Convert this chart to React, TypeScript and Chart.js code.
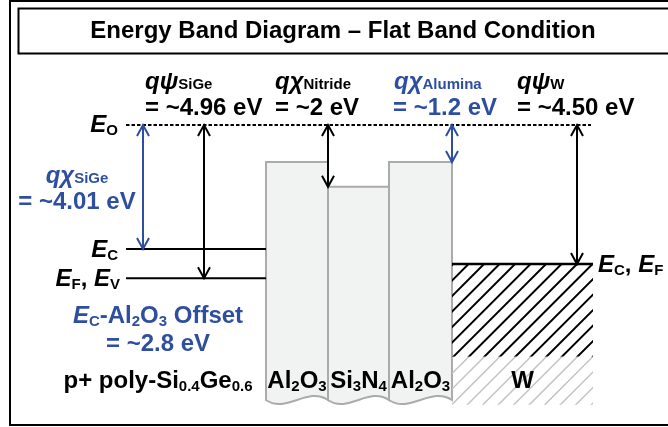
import React, { useEffect, useRef } from "react";
import { Chart, registerables } from "chart.js";
Chart.register(...registerables);

// ---- Data (energies in eV relative to the vacuum level E_O = 0) ----
const VACUUM_LEVEL = 0;
const SIGE_CHI = 4.01; // qχ SiGe
const SIGE_PSI = 4.96; // qψ SiGe
const W_PSI = 4.5; // qψ W
const LAYER_NAMES = ["Al2O3", "Si3N4", "Al2O3"];
const LAYER_CHI = [1.2, 2.0, 1.2]; // electron affinities of the dielectric stack
const LAYER_EDGES = [266, 328, 389, 452]; // diagram x units
const SIGE_SPAN = [126, 266];
const METAL_SPAN = [452, 593];
const VACUUM_SPAN = [126, 591];
const STACK_BOTTOM = -8.9; // eV (bottom of drawn dielectric blocks)
const METAL_DARK_BOTTOM = -7.5;
const METAL_LIGHT_BOTTOM = -9.05;
const OFFSET_LABEL = "~2.8 eV";

const FONT = '"Liberation Sans", Arial, Helvetica, sans-serif';
const BLUE = "#2E4FA0";

type Seg = [string, "b" | "bi" | "s" | "sl"];

function segFont(k: string) {
  if (k === "b") return `bold 24px ${FONT}`;
  if (k === "bi") return `italic bold 24px ${FONT}`;
  return `bold 15px ${FONT}`;
}

function drawRich(ctx: CanvasRenderingContext2D, segs: Seg[], x: number, y: number, align: string, color: string) {
  ctx.save();
  ctx.fillStyle = color;
  ctx.textBaseline = "alphabetic";
  ctx.textAlign = "left";
  const widths = segs.map(([t, k]) => {
    ctx.font = segFont(k);
    return ctx.measureText(t).width;
  });
  const total = widths.reduce((a, b) => a + b, 0);
  let cx = align === "left" ? x : align === "right" ? x - total : x - total / 2;
  segs.forEach(([t, k], i) => {
    ctx.font = segFont(k);
    ctx.fillText(t, cx, y + (k === "sl" ? 3 : 0));
    cx += widths[i];
  });
  ctx.restore();
}

function drawArrow(ctx: CanvasRenderingContext2D, x: number, y1: number, y2: number, color: string) {
  const L = 11, H = 6;
  ctx.save();
  ctx.strokeStyle = color;
  ctx.lineWidth = 2;
  ctx.lineJoin = "miter";
  ctx.beginPath();
  ctx.moveTo(x, y1);
  ctx.lineTo(x, y2);
  ctx.stroke();
  ctx.beginPath();
  ctx.moveTo(x - H, y1 + L);
  ctx.lineTo(x, y1);
  ctx.lineTo(x + H, y1 + L);
  ctx.moveTo(x - H, y2 - L);
  ctx.lineTo(x, y2);
  ctx.lineTo(x + H, y2 - L);
  ctx.stroke();
  ctx.restore();
}

function layerSegs(name: string): Seg[] {
  const out: Seg[] = [];
  for (const ch of name) {
    if (/[0-9]/.test(ch)) out.push([ch, "sl"]);
    else out.push([ch, "b"]);
  }
  return out;
}

const diagramPlugin = {
  id: "diagram",
  beforeDatasetsDraw(chart: any) {
    const ctx: CanvasRenderingContext2D = chart.ctx;
    const xs = chart.scales.x, ys = chart.scales.y;
    const X = (v: number) => xs.getPixelForValue(v);
    const Y = (v: number) => ys.getPixelForValue(v);

    // frames
    ctx.save();
    ctx.strokeStyle = "#000";
    ctx.lineWidth = 2;
    ctx.strokeRect(10, 1, 700, 424);
    ctx.strokeRect(18.5, 8.5, 700, 45);
    ctx.restore();

    // dielectric blocks
    const yb = Y(STACK_BOTTOM);
    LAYER_CHI.forEach((chi, i) => {
      const x0 = X(LAYER_EDGES[i]);
      const x1 = X(LAYER_EDGES[i + 1]);
      const yt = Y(VACUUM_LEVEL - chi);
      const w = x1 - x0;
      ctx.save();
      ctx.beginPath();
      ctx.moveTo(x0, yb);
      ctx.lineTo(x0, yt);
      ctx.lineTo(x1, yt);
      ctx.lineTo(x1, yb);
      ctx.bezierCurveTo(x0 + (2 * w) / 3, yb - 14, x0 + w / 3, yb + 14, x0, yb);
      ctx.closePath();
      ctx.fillStyle = "#F1F2F2";
      ctx.fill();
      ctx.strokeStyle = "#ABABAB";
      ctx.lineWidth = 2;
      ctx.stroke();
      ctx.restore();
    });

    // metal hatching
    const mx0 = X(METAL_SPAN[0]), mx1 = X(METAL_SPAN[1]);
    const yTop = Y(VACUUM_LEVEL - W_PSI);
    const yDark = Y(METAL_DARK_BOTTOM);
    const yLight = Y(METAL_LIGHT_BOTTOM);
    const step = 15.5;
    const hatch = (ya: number, yz: number, color: string, lw: number) => {
      ctx.save();
      ctx.beginPath();
      ctx.rect(mx0, ya, mx1 - mx0, yz - ya);
      ctx.clip();
      ctx.strokeStyle = color;
      ctx.lineWidth = lw;
      ctx.beginPath();
      for (let c = mx0 + yTop + 1 - step * 20; c < mx1 + yz + step; c += step) {
        ctx.moveTo(c - ya + 2, ya - 2);
        ctx.lineTo(c - yz - 2, yz + 2);
      }
      ctx.stroke();
      ctx.restore();
    };
    hatch(yTop, yDark, "#000", 2);
    hatch(yDark, yLight, "#C4C4C4", 1.5);
  },
  afterDatasetsDraw(chart: any) {
    const ctx: CanvasRenderingContext2D = chart.ctx;
    const xs = chart.scales.x, ys = chart.scales.y;
    const X = (v: number) => xs.getPixelForValue(v);
    const Y = (v: number) => ys.getPixelForValue(v);
    const y0 = Y(VACUUM_LEVEL);

    // arrows
    drawArrow(ctx, X(143), y0, Y(VACUUM_LEVEL - SIGE_CHI), BLUE);
    drawArrow(ctx, X(204), y0, Y(VACUUM_LEVEL - SIGE_PSI), "#000");
    drawArrow(ctx, X(LAYER_EDGES[1]), y0, Y(VACUUM_LEVEL - LAYER_CHI[1]), "#000");
    drawArrow(ctx, X(LAYER_EDGES[3]), y0, Y(VACUUM_LEVEL - LAYER_CHI[2]), BLUE);
    drawArrow(ctx, X(577), y0, Y(VACUUM_LEVEL - W_PSI), "#000");

    // title
    drawRich(ctx, [["Energy Band Diagram – Flat Band Condition", "b"]], 343, 38, "center", "#000");

    // top labels
    drawRich(ctx, [["q", "bi"], ["ψ", "bi"], ["SiGe", "s"]], 145, 89, "left", "#000");
    drawRich(ctx, [[`= ~${SIGE_PSI.toFixed(2)} eV`, "b"]], 145, 115, "left", "#000");
    drawRich(ctx, [["q", "bi"], ["χ", "bi"], ["Nitride", "s"]], 275, 89, "left", "#000");
    drawRich(ctx, [[`= ~${LAYER_CHI[1].toFixed(0)} eV`, "b"]], 275, 115, "left", "#000");
    drawRich(ctx, [["q", "bi"], ["χ", "bi"], ["Alumina", "s"]], 394, 89, "left", BLUE);
    drawRich(ctx, [[`= ~${LAYER_CHI[0].toFixed(1)} eV`, "b"]], 393, 115, "left", BLUE);
    drawRich(ctx, [["q", "bi"], ["ψ", "bi"], ["W", "s"]], 517, 89, "left", "#000");
    drawRich(ctx, [[`= ~${W_PSI.toFixed(2)} eV`, "b"]], 517, 115, "left", "#000");

    // left labels
    drawRich(ctx, [["E", "bi"], ["O", "sl"]], 118, y0 + 7, "right", "#000");
    drawRich(ctx, [["q", "bi"], ["χ", "bi"], ["SiGe", "s"]], 77, 183, "center", BLUE);
    drawRich(ctx, [[`= ~${SIGE_CHI.toFixed(2)} eV`, "b"]], 77, 209, "center", BLUE);
    drawRich(ctx, [["E", "bi"], ["C", "sl"]], 118, Y(VACUUM_LEVEL - SIGE_CHI) + 8, "right", "#000");
    drawRich(ctx, [["E", "bi"], ["F", "sl"], [", ", "b"], ["E", "bi"], ["V", "sl"]], 120, Y(VACUUM_LEVEL - SIGE_PSI) + 8, "right", "#000");
    drawRich(ctx, [["E", "bi"], ["C", "sl"], ["-Al", "b"], ["2", "sl"], ["O", "b"], ["3", "sl"], [" Offset", "b"]], 158, 323, "center", BLUE);
    drawRich(ctx, [[`= ${OFFSET_LABEL}`, "b"]], 158, 351, "center", BLUE);
    drawRich(ctx, [["p+ poly-Si", "b"], ["0.4", "sl"], ["Ge", "b"], ["0.6", "sl"]], 158, 388, "center", "#000");

    // layer names
    LAYER_NAMES.forEach((n, i) => {
      drawRich(ctx, layerSegs(n), X((LAYER_EDGES[i] + LAYER_EDGES[i + 1]) / 2), 388, "center", "#000");
    });
    drawRich(ctx, [["W", "b"]], X((METAL_SPAN[0] + METAL_SPAN[1]) / 2), 388, "center", "#000");
    drawRich(ctx, [["E", "bi"], ["C", "sl"], [", ", "b"], ["E", "bi"], ["F", "sl"]], X(METAL_SPAN[1]) + 5, Y(VACUUM_LEVEL - W_PSI) + 8, "left", "#000");
  },
};

export default function App() {
  const ref = useRef<HTMLCanvasElement | null>(null);
  useEffect(() => {
    document.body.style.margin = "0";
    const canvas = ref.current!;
    const line = (pts: { x: number; y: number }[], width: number, dash: number[] = []) => ({
      data: pts,
      showLine: true,
      borderColor: "#000",
      borderWidth: width,
      borderDash: dash,
      pointRadius: 0,
      fill: false,
    });
    const chart = new Chart(canvas, {
      type: "scatter",
      data: {
        datasets: [
          line([{ x: VACUUM_SPAN[0], y: VACUUM_LEVEL }, { x: VACUUM_SPAN[1], y: VACUUM_LEVEL }], 2, [3.5, 2]),
          line([{ x: SIGE_SPAN[0], y: VACUUM_LEVEL - SIGE_CHI }, { x: SIGE_SPAN[1], y: VACUUM_LEVEL - SIGE_CHI }], 2),
          line([{ x: SIGE_SPAN[0], y: VACUUM_LEVEL - SIGE_PSI }, { x: SIGE_SPAN[1], y: VACUUM_LEVEL - SIGE_PSI }], 2),
          line([{ x: METAL_SPAN[0], y: VACUUM_LEVEL - W_PSI }, { x: METAL_SPAN[1], y: VACUUM_LEVEL - W_PSI }], 2.5),
        ] as any,
      },
      options: {
        animation: false,
        responsive: false,
        maintainAspectRatio: false,
        layout: { padding: 0 },
        plugins: { legend: { display: false }, tooltip: { enabled: false } },
        scales: {
          x: { type: "linear", min: 0, max: 668, display: false },
          y: { type: "linear", min: -9.773, max: 4.045, display: false },
        },
      },
      plugins: [diagramPlugin],
    });
    return () => chart.destroy();
  }, []);
  return (
    <div style={{ width: 668, height: 427 }}>
      <canvas ref={ref} width={668} height={427} style={{ display: "block" }} />
    </div>
  );
}
